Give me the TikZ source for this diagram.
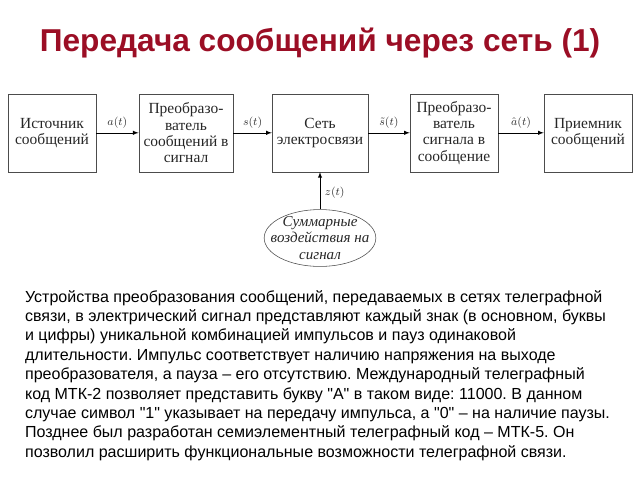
\documentclass[tikz,border=0pt]{standalone}
\usepackage{fontspec}
\setmainfont{Liberation Serif}
\setsansfont{Liberation Sans}
\usetikzlibrary{arrows, shapes.geometric}
\definecolor{titlered}{RGB}{155,14,37}

\begin{document}
\frenchspacing
\begin{tikzpicture}[
            > = latex, % arrow head style
            auto,
            node distance = 3.35cm, % distance between box centres
            thin % line style
        ]

        \tikzstyle{block}=[
            draw = black!70,
            rectangle,
            minimum width = 2.2cm,
            minimum height = 1.95cm,
            align = center,
            text = black!85,
            font = \fontsize{11}{11.7}\selectfont
        ]
        \tikzstyle{lbl}=[font = \footnotesize, text = black!80]

        \useasboundingbox (0,0) rectangle (16,-12);

	\node[font=\sffamily\bfseries\fontsize{22.5}{26}\selectfont, text=titlered] (title) at (8,-1.08) {Передача сообщений через сеть (1)};

	\node[block] (src) at (1.3,-3.32) {Источник\\сообщений};
	\node[block] (mod) [right of=src] {Преобразо-\\ватель\\сообщений в\\сигнал};
	\node[block] (net) [right of=mod] {Сеть\\электросвязи};
	\node[block] (dem) [right of=net] {Преобразо-\\ватель\\сигнала в\\сообщение};
	\node[block] (dst) [right of=dem] {Приемник\\сообщений};
	\node[ellipse, draw=black!70, inner xsep=-7pt, inner ysep=-1pt, align=center,
	      font=\itshape\fontsize{10.7}{11.7}\selectfont, text=black!85,
	      node distance=2.63cm] (noise) [below of=net] {Суммарные\\воздействия на\\сигнал};

	\path[->] (src) edge node[lbl] {$a(t)$} (mod);
	\path[->] (mod) edge node[lbl] {$s(t)$} (net);
	\path[->] (net) edge node[lbl] {$\tilde{s}(t)$} (dem);
	\path[->] (dem) edge node[lbl] {$\hat{a}(t)$} (dst);
	\path[->] (noise) edge node[lbl, swap, pos=0.45] {$z(t)$} (net);

	\node[anchor=north west, inner sep=0pt, align=left, font=\sffamily\fontsize{11.4}{13.8}\selectfont] (txt) at (0.62,-7.25) {%
Устройства преобразования сообщений, передаваемых в сетях телеграфной\\
связи, в электрический сигнал представляют каждый знак (в основном, буквы\\
и цифры) уникальной комбинацией импульсов и пауз одинаковой\\
длительности. Импульс соответствует наличию напряжения на выходе\\
преобразователя, а пауза – его отсутствию. Международный телеграфный\\
код МТК-2 позволяет представить букву \textquotedbl А\textquotedbl{} в таком виде: 11000. В данном\\
случае символ \textquotedbl 1\textquotedbl{} указывает на передачу импульса, а \textquotedbl 0\textquotedbl{} – на наличие паузы.\\
Позднее был разработан семиэлементный телеграфный код – МТК-5. Он\\
позволил расширить функциональные возможности телеграфной связи.};

    \end{tikzpicture}
\end{document}
